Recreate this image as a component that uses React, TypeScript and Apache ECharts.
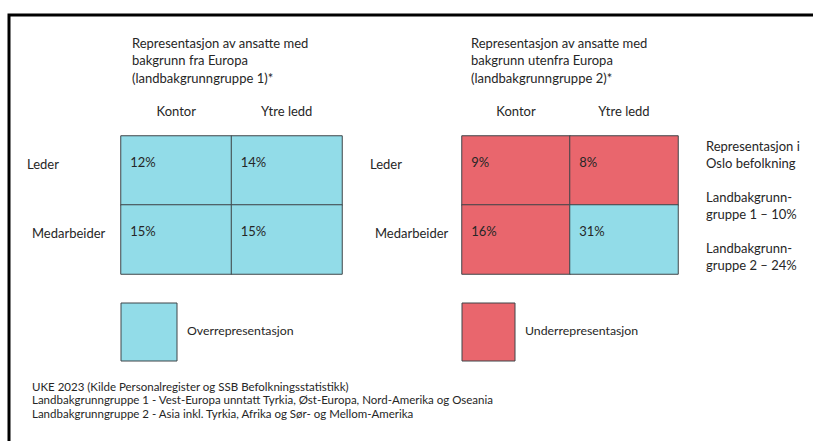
import React, { useEffect, useRef } from "react";
import * as echarts from "echarts";

// ---- data ----
const columns = ["Kontor", "Ytre ledd"];
const rows = ["Leder", "Medarbeider"];
// rows: Leder, Medarbeider; columns: Kontor, Ytre ledd (percent)
const group1Values = [
  [12, 14],
  [15, 15],
];
const group2Values = [
  [9, 8],
  [16, 31],
];
const populationShare = [10, 24];
const groupTitles = [
  "Representasjon av ansatte med\nbakgrunn fra Europa\n(landbakgrunngruppe 1)*",
  "Representasjon av ansatte med\nbakgrunn utenfra Europa\n(landbakgrunngruppe 2)*",
];
const populationTitle = "Representasjon i\nOslo befolkning";
const populationLabels = ["Landbakgrunn-\ngruppe 1 – ", "Landbakgrunn-\ngruppe 2 – "];
const legendLabels = ["Overrepresentasjon", "Underrepresentasjon"];
const footnotes = [
  "UKE 2023 (Kilde Personalregister og SSB Befolkningsstatistikk)",
  "Landbakgrunngruppe 1 - Vest-Europa unntatt Tyrkia, Øst-Europa, Nord-Amerika og Oseania",
  "Landbakgrunngruppe 2 - Asia inkl. Tyrkia, Afrika og Sør- og Mellom-Amerika",
];

const OVER = "#92dce8";
const UNDER = "#e9666d";
const BORDER = "#3f4548";
const TEXT = "#262626";
const FONT = "Lato, 'Noto Sans', sans-serif";
const FS = 13;

export default function App() {
  const ref = useRef<HTMLDivElement>(null);
  useEffect(() => {
    if (!ref.current) return;
    document.body.style.overflow = "hidden";
    const chart = echarts.init(ref.current, null, { renderer: "svg" });

    const groups = [group1Values, group2Values];
    const grids = [
      { left: 121, top: 136, width: 221, height: 138 },
      { left: 462, top: 136, width: 216, height: 138 },
    ];
    const yMargins = [94, 92];

    const xAxes = grids.map((_, i) => ({
      type: "category",
      gridIndex: i,
      position: "top",
      data: columns,
      axisLine: { show: false },
      axisTick: { show: false },
      splitLine: { show: false },
      axisLabel: { color: TEXT, fontFamily: FONT, fontSize: FS, margin: 19 },
    }));
    const yAxes = grids.map((_, i) => ({
      type: "category",
      gridIndex: i,
      inverse: true,
      data: rows,
      axisLine: { show: false },
      axisTick: { show: false },
      splitLine: { show: false },
      axisLabel: {
        color: TEXT,
        fontFamily: FONT,
        fontSize: FS,
        align: "left",
        margin: yMargins[i],
        formatter: (v: string) => (v === rows[0] ? `{a|${v}}` : `{b|${v}}`),
        rich: {
          a: { color: TEXT, fontFamily: FONT, fontSize: FS, padding: [0, 0, 14, 0] },
          b: { color: TEXT, fontFamily: FONT, fontSize: FS, padding: [0, 0, 14, 5] },
        },
      },
    }));

    const series = groups.map((vals, gi) => ({
      type: "heatmap",
      xAxisIndex: gi,
      yAxisIndex: gi,
      data: vals.flatMap((row, ri) => row.map((v, ci) => [ci, ri, v])),
      itemStyle: { borderColor: BORDER, borderWidth: 1 },
      label: {
        show: true,
        position: [10, 20],
        color: TEXT,
        fontFamily: FONT,
        fontSize: FS,
        formatter: (p: any) => `${p.value[2]}%`,
      },
      emphasis: { disabled: true },
    }));

    const visualMaps = populationShare.map((share, gi) => ({
      type: "piecewise",
      show: false,
      seriesIndex: gi,
      dimension: 2,
      pieces: [
        { gt: share, color: OVER },
        { lte: share, color: UNDER },
      ],
    }));

    const graphics: any[] = [
      {
        type: "polyline",
        shape: { points: [[9, 441], [9, 15], [813, 15]] },
        style: { fill: "none", stroke: "#000", lineWidth: 3 },
        silent: true,
      },
      ...groupTitles.map((t, i) => ({
        type: "text",
        x: [132, 471][i],
        y: 34,
        style: { text: t, fill: TEXT, font: `${FS}px ${FONT}`, lineHeight: 17.5 },
      })),
      {
        type: "text",
        x: 706,
        y: 137,
        style: { text: populationTitle, fill: TEXT, font: `${FS}px ${FONT}`, lineHeight: 17 },
      },
      ...populationLabels.map((t, i) => ({
        type: "text",
        x: 706,
        y: [189, 240][i],
        style: {
          text: `${t}${populationShare[i]}%`,
          fill: TEXT,
          font: `${FS}px ${FONT}`,
          lineHeight: 16.5,
        },
      })),
      ...legendLabels.map((t, i) => ({
        type: "group",
        children: [
          {
            type: "rect",
            shape: { x: [121, 462][i], y: 303, width: [56, 53][i], height: 58 },
            style: { fill: i === 0 ? OVER : UNDER, stroke: BORDER, lineWidth: 1 },
          },
          {
            type: "text",
            x: [187, 525][i],
            y: 330,
            style: {
              text: t,
              fill: TEXT,
              font: `12.3px ${FONT}`,
              verticalAlign: "middle",
            },
          },
        ],
      })),
      ...footnotes.map((t, i) => ({
        type: "text",
        x: 32,
        y: 386 + i * 13.9,
        style: {
          text: t,
          fill: TEXT,
          font: `11.5px ${FONT}`,
          verticalAlign: "middle",
        },
      })),
    ];

    chart.setOption({
      animation: false,
      backgroundColor: "#fff",
      grid: grids,
      xAxis: xAxes,
      yAxis: yAxes,
      visualMap: visualMaps,
      series,
      graphic: graphics,
    });
    return () => chart.dispose();
  }, []);

  return (
    <div
      ref={ref}
      style={{ position: "absolute", left: 0, top: 0, width: 813, height: 441, overflow: "hidden" }}
    />
  );
}
